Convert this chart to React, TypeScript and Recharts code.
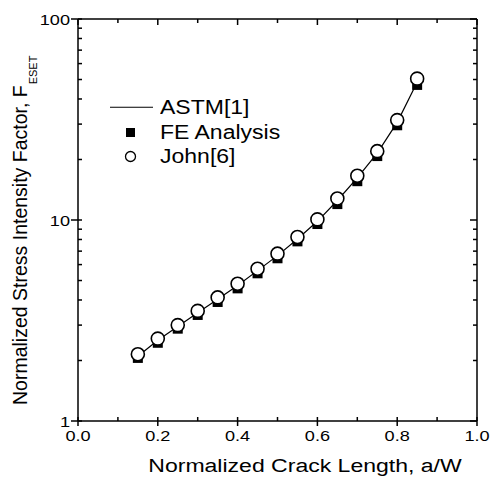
import { ComposedChart, Label, Legend, Line, ReferenceLine, XAxis, YAxis } from "recharts";

// a/W positions of the computed points
const crackLength = [0.15, 0.2, 0.25, 0.3, 0.35, 0.4, 0.45, 0.5, 0.55, 0.6, 0.65, 0.7, 0.75, 0.8, 0.85];
const astmValues = [2.1, 2.52, 2.95, 3.46, 4.03, 4.72, 5.6, 6.65, 8.05, 9.85, 12.5, 16.2, 21.5, 30.6, 48.5];
const feValues = [2.06, 2.45, 2.88, 3.37, 3.91, 4.57, 5.43, 6.45, 7.83, 9.55, 12.0, 15.6, 20.8, 29.6, 47.0];
const johnValues = [2.15, 2.57, 3.0, 3.53, 4.12, 4.82, 5.72, 6.8, 8.23, 10.07, 12.8, 16.6, 22.0, 31.4, 50.5];

const xTicks = [0, 0.1, 0.2, 0.3, 0.4, 0.5, 0.6, 0.7, 0.8, 0.9, 1.0];
const xTickLabels = ["0.0", "0.2", "0.4", "0.6", "0.8", "1.0"];
const yTicks = [1, 2, 3, 4, 5, 6, 7, 8, 9, 10, 20, 30, 40, 50, 60, 70, 80, 90, 100];
const yTickLabels = ["1", "10", "100"];

const legendNames = ["ASTM[1]", "FE Analysis", "John[6]"];

const data = crackLength.map((x, i) => ({
    x,
    astm: astmValues[i],
    fe: feValues[i],
    john: johnValues[i],
}));

const FONT = "'Liberation Sans', Arial, Helvetica, sans-serif";
const W = 500;
const H = 484;
const MARGIN = { top: 19, right: 23, bottom: 0, left: 18 };
const PLOT_TOP = MARGIN.top;
const PLOT_RIGHT = W - MARGIN.right;
const STRETCH = 1.17;

function XTick(props: any) {
    const { x, y, payload } = props;
    const label = xTickLabels.find((l) => Math.abs(parseFloat(l) - payload.value) < 1e-6);
    const major = label !== undefined;
    return (
        <g>
            <line x1={x} x2={x} y1={y - 4} y2={major ? y + 5 : y} stroke="#000" strokeWidth={1.5} />
            <line x1={x} x2={x} y1={PLOT_TOP} y2={PLOT_TOP + (major ? 6 : 4)} stroke="#000" strokeWidth={1.5} />
            {major && (
                <text
                    transform={`translate(${x},${y + 20}) scale(${STRETCH},1)`}
                    textAnchor="middle"
                    fontSize={15.5}
                    fontFamily={FONT}
                    fill="#000"
                >
                    {label}
                </text>
            )}
        </g>
    );
}

function YTick(props: any) {
    const { x, y, payload } = props;
    const label = yTickLabels.find((l) => Number(l) === payload.value);
    const major = label !== undefined;
    return (
        <g>
            <line x1={major ? x - 7 : x} x2={x + 4} y1={y} y2={y} stroke="#000" strokeWidth={1.5} />
            <line x1={PLOT_RIGHT - (major ? 7 : 4)} x2={PLOT_RIGHT} y1={y} y2={y} stroke="#000" strokeWidth={1.5} />
            {major && (
                <text
                    transform={`translate(${x - 8},${y + 5.5}) scale(${STRETCH},1)`}
                    textAnchor="end"
                    fontSize={15.5}
                    fontFamily={FONT}
                    fill="#000"
                >
                    {label}
                </text>
            )}
        </g>
    );
}

function XTitle() {
    return (
        <text
            transform="translate(305,472) scale(1.28,1)"
            textAnchor="middle"
            fontSize={18}
            fontFamily={FONT}
            fill="#000"
        >
            Normalized Crack Length, a/W
        </text>
    );
}

function YTitle() {
    return (
        <text transform="translate(27,405) rotate(-90)" fontSize={19.5} fontFamily={FONT} fill="#000">
            Normalized Stress Intensity Factor, F
            <tspan fontSize={11} dy={10} dx={1}>
                ESET
            </tspan>
        </text>
    );
}

function ChartLegend() {
    const icons = [
        <line key="l" x1={5} x2={48} y1={12.25} y2={12.25} stroke="#000" strokeWidth={1.2} />,
        <rect key="s" x={21} y={8} width={9} height={9} fill="#000" />,
        <circle key="c" cx={25.5} cy={12.5} r={5} fill="#fff" stroke="#000" strokeWidth={1.3} />,
    ];
    return (
        <div style={{ fontFamily: FONT, fontSize: 19.5, lineHeight: "24.5px", color: "#000" }}>
            {legendNames.map((name, i) => (
                <div key={name} style={{ display: "flex", alignItems: "center", height: 24.5 }}>
                    <svg width={50} height={24.5}>{icons[i]}</svg>
                    <span
                        style={{
                            marginLeft: 5,
                            display: "inline-block",
                            transform: "scaleX(1.18)",
                            transformOrigin: "left center",
                            whiteSpace: "nowrap",
                        }}
                    >
                        {name}
                    </span>
                </div>
            ))}
        </div>
    );
}

export default function App() {
    return (
        <div style={{ position: "absolute", left: 0, top: 0, background: "#fff" }}>
            <ComposedChart width={W} height={H} data={data} margin={MARGIN}>
                <XAxis
                    dataKey="x"
                    type="number"
                    domain={[0, 1]}
                    ticks={xTicks}
                    interval={0}
                    height={63}
                    tickSize={0}
                    tickMargin={0}
                    tickLine={false}
                    tick={<XTick />}
                    axisLine={{ stroke: "#000", strokeWidth: 1.5 }}
                    allowDataOverflow
                >
                    <Label content={<XTitle />} />
                </XAxis>
                <YAxis
                    type="number"
                    scale="log"
                    domain={[1, 100]}
                    ticks={yTicks}
                    interval={0}
                    width={60}
                    tickSize={0}
                    tickMargin={0}
                    tickLine={false}
                    tick={<YTick />}
                    axisLine={{ stroke: "#000", strokeWidth: 1.5 }}
                    allowDataOverflow
                >
                    <Label content={<YTitle />} />
                </YAxis>
                <ReferenceLine y={100} stroke="#000" strokeWidth={1.5} />
                <ReferenceLine x={1} stroke="#000" strokeWidth={1.5} />
                <Line
                    dataKey="fe"
                    stroke="none"
                    isAnimationActive={false}
                    activeDot={false}
                    dot={(p: any) => (
                        <rect key={`fe-${p.index}`} x={p.cx - 5} y={p.cy - 5} width={10} height={10} fill="#000" />
                    )}
                />
                <Line
                    dataKey="astm"
                    type="linear"
                    stroke="#000"
                    strokeWidth={1.2}
                    dot={false}
                    activeDot={false}
                    isAnimationActive={false}
                />
                <Line
                    dataKey="john"
                    stroke="none"
                    isAnimationActive={false}
                    activeDot={false}
                    dot={(p: any) => (
                        <circle
                            key={`john-${p.index}`}
                            cx={p.cx}
                            cy={p.cy}
                            r={6.5}
                            fill="#fff"
                            stroke="#000"
                            strokeWidth={1.6}
                        />
                    )}
                />
                <Legend
                    layout="vertical"
                    align="center"
                    verticalAlign="middle"
                    content={<ChartLegend />}
                    wrapperStyle={{ left: 105, top: 95, width: 220, height: 75 }}
                />
            </ComposedChart>
        </div>
    );
}
